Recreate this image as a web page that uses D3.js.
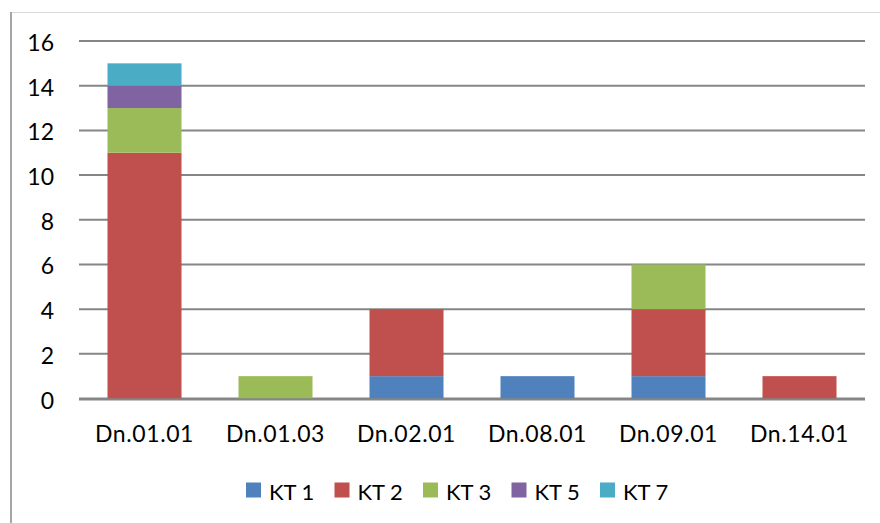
<!DOCTYPE html>
<html>
<head>
<meta charset="utf-8">
<script src="https://cdn.jsdelivr.net/npm/d3@7"></script>
<style>
  html, body { margin: 0; padding: 0; background: #fff; }
  svg text { font-family: Lato, "Open Sans", sans-serif; fill: #000; }
</style>
</head>
<body>
<svg id="chart" width="880" height="523"></svg>
<script>
// Categories along the x axis
var categories = ["Dn.01.01", "Dn.01.03", "Dn.02.01", "Dn.08.01", "Dn.09.01", "Dn.14.01"];

// Series names, bottom of the stack first
var seriesNames = ["KT 1", "KT 2", "KT 3", "KT 5", "KT 7"];

// Values for each series, one per category
var kt1 = [0, 0, 1, 1, 1, 0];
var kt2 = [11, 0, 3, 0, 3, 1];
var kt3 = [2, 1, 0, 0, 2, 0];
var kt5 = [1, 0, 0, 0, 0, 0];
var kt7 = [1, 0, 0, 0, 0, 0];

// Y axis ticks
var yTicks = [0, 2, 4, 6, 8, 10, 12, 14, 16];

var colors = ["#4F81BD", "#C0504D", "#9BBB59", "#8064A2", "#4BACC6"];

var svg = d3.select("#chart");

// Build the table for the stack layout
var seriesValues = [kt1, kt2, kt3, kt5, kt7];
var table = categories.map(function (c, i) {
    var row = { cat: c };
    seriesNames.forEach(function (s, j) { row[s] = seriesValues[j][i]; });
    return row;
});
var stacked = d3.stack().keys(seriesNames)(table);

// Scales
var plotLeft = 79, plotRight = 865;
var x = d3.scaleBand()
    .domain(categories)
    .range([plotLeft, plotRight])
    .paddingInner(0.435)
    .paddingOuter(0.2175);
var y = d3.scaleLinear().domain([0, 16]).range([398.5, 41]);

// Outer chart frame (left and top edges are visible in the picture)
svg.append("line")
    .attr("x1", 10).attr("x2", 880).attr("y1", 12.5).attr("y2", 12.5)
    .style("stroke", "#d9d9d9").style("stroke-width", 1);
svg.append("line")
    .attr("x1", 11).attr("x2", 11).attr("y1", 12).attr("y2", 523)
    .style("stroke", "#a6a6a6").style("stroke-width", 2);

// Gridlines
svg.append("g")
    .selectAll("line")
    .data(yTicks)
    .enter()
    .append("line")
    .attr("x1", plotLeft)
    .attr("x2", plotRight)
    .attr("y1", function (d) { return y(d); })
    .attr("y2", function (d) { return y(d); })
    .style("stroke", "#868686")
    .style("stroke-width", 2);

// Y tick labels
svg.append("g")
    .selectAll("text")
    .data(yTicks)
    .enter()
    .append("text")
    .attr("x", 54)
    .attr("y", function (d) { return y(d) + 1; })
    .attr("text-anchor", "end")
    .attr("dominant-baseline", "central")
    .style("font-size", "23px")
    .text(function (d) { return d; });

// Stacked bars
svg.append("g")
    .selectAll("g")
    .data(stacked)
    .enter()
    .append("g")
    .attr("fill", function (d, i) { return colors[i]; })
    .selectAll("rect")
    .data(function (d) { return d; })
    .enter()
    .append("rect")
    .attr("x", function (d) { return x(d.data.cat); })
    .attr("width", x.bandwidth())
    .attr("y", function (d) { return y(d[1]); })
    .attr("height", function (d) { return y(d[0]) - y(d[1]); });

// Redraw the zero line on top of the bars
svg.append("line")
    .attr("x1", plotLeft).attr("x2", plotRight)
    .attr("y1", y(0) + 1).attr("y2", y(0) + 1)
    .style("stroke", "#868686").style("stroke-width", 2);

// Category labels
svg.append("g")
    .selectAll("text")
    .data(categories)
    .enter()
    .append("text")
    .attr("x", function (d) { return x(d) + x.bandwidth() / 2; })
    .attr("y", 442)
    .attr("text-anchor", "middle")
    .style("font-size", "23px")
    .style("letter-spacing", "0.6px")
    .text(function (d) { return d; });

// Legend
var legend = svg.append("g")
    .selectAll("g")
    .data(seriesNames)
    .enter()
    .append("g")
    .attr("transform", function (d, i) { return "translate(" + (246 + i * 88.5) + ",490)"; });

legend.append("rect")
    .attr("x", 0).attr("y", -7.5)
    .attr("width", 15).attr("height", 15)
    .attr("fill", function (d, i) { return colors[i]; });

legend.append("text")
    .attr("x", 23)
    .attr("y", 1)
    .attr("dominant-baseline", "central")
    .style("font-size", "22px")
    .text(function (d) { return d; });
</script>
</body>
</html>
